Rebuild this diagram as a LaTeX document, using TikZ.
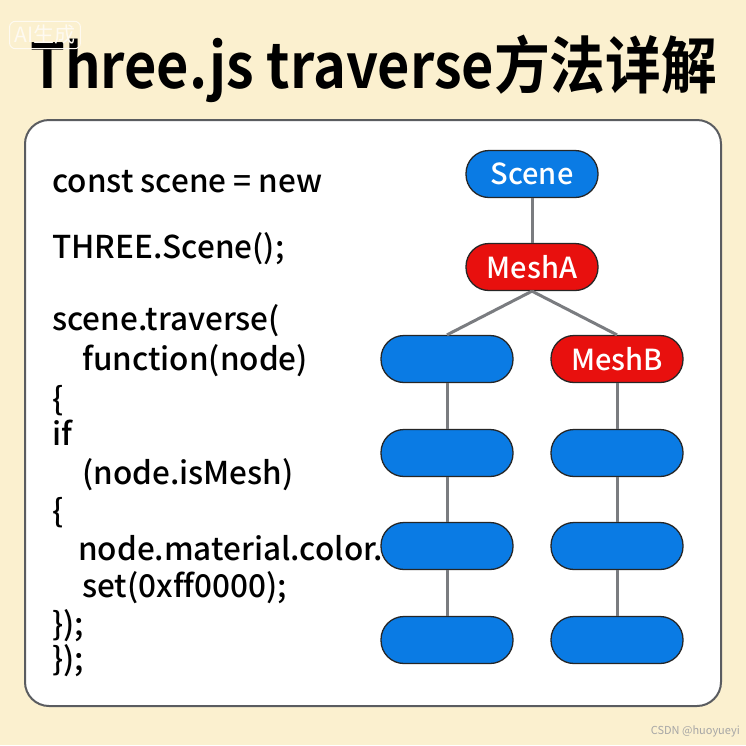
\documentclass[tikz,border=0pt]{standalone}
\usepackage{fontspec}
\setmainfont{Noto Sans CJK SC}[BoldFont={Noto Sans CJK SC Bold}]
\newfontfamily\titlefont{Noto Sans CJK SC Bold}
\newfontfamily\codefont{Noto Sans CJK SC Medium}[Ligatures={NoCommon}]
\usetikzlibrary{positioning}

\definecolor{cream}{HTML}{FBF0CF}
\definecolor{objblue}{HTML}{0A7BE4}
\definecolor{meshred}{HTML}{E8100E}
\definecolor{linkgray}{HTML}{7A7C80}
\definecolor{panelgray}{HTML}{5A5C60}

\tikzset{
  obj/.style={draw=black!85, line width=1.3pt, fill=objblue, text=white,
    rounded corners=23pt, minimum width=132pt, minimum height=47pt,
    inner sep=0pt, font=\codefont\fontsize{29}{34}\selectfont},
  mesh/.style={obj, fill=meshred},
  link/.style={draw=linkgray, line width=3pt},
  codeline/.style={anchor=base west, inner sep=0pt, font=\codefont\fontsize{31.5}{38}\selectfont}
}

\begin{document}
\begin{tikzpicture}[x=1pt, y=-1pt]
  \useasboundingbox (0,0) rectangle (746,745);
  \fill[cream] (0,0) rectangle (746,745);
  % watermark and title
  \node[anchor=base west, inner sep=0pt, font=\titlefont\fontsize{62}{70}\selectfont] (title) at (30,88) {\scalebox{0.9}[1]{Three.js traverse方法详解}};
  \node[draw=white!70!cream, line width=1pt, rounded corners=6pt, text=white!70!cream,
    font=\fontsize{21}{24}\selectfont, inner xsep=5pt, inner ysep=4pt] (aimark) at (45,35) {AI生成};
  % panel
  \draw[fill=white, draw=panelgray, line width=2pt, rounded corners=24pt] (25,120) rectangle (721,706);
  % code
  \node[codeline] (code1) at (52,192) {const scene = new};
  \node[codeline] (code2) at (52,258) {THREE.Scene();};
  \node[codeline] (code3) at (52,330) {scene.traverse(};
  \node[codeline] (code4) at (82,370) {function(node)};
  \node[codeline] (code5) at (52,410) {\{};
  \node[codeline] (code6) at (52,445) {if};
  \node[codeline] (code7) at (82,484) {(node.isMesh)};
  \node[codeline] (code8) at (52,522) {\{};
  \node[codeline] (code9) at (78,560) {node.material.color.};
  \node[codeline] (code10) at (82,597) {set(0xff0000);};
  \node[codeline] (code11) at (52,635) {\});};
  \node[codeline] (code12) at (52,670) {\});};
  % tree
  \node[obj] (scene) at (532,174) {Scene};
  \node[mesh] (meshA) at (532,267) {MeshA};
  \node[obj] (leftA) at (447,359) {};
  \node[mesh] (meshB) at (617,359) {MeshB};
  \node[obj] (leftB) at (447,453) {};
  \node[obj] (leftC) at (447,546) {};
  \node[obj] (leftD) at (447,640) {};
  \node[obj] (rightB) at (617,453) {};
  \node[obj] (rightC) at (617,546) {};
  \node[obj] (rightD) at (617,640) {};
  \draw[link] (scene) -- (meshA);
  \draw[link] (meshA.south) -- (leftA.north);
  \draw[link] (meshA.south) -- (meshB.north);
  \draw[link] (leftA) -- (leftB);
  \draw[link] (leftB) -- (leftC);
  \draw[link] (leftC) -- (leftD);
  \draw[link] (meshB) -- (rightB);
  \draw[link] (rightB) -- (rightC);
  \draw[link] (rightC) -- (rightD);
  \node[anchor=base east, inner sep=0pt, text=black!35, font=\fontsize{11}{13}\selectfont] (csdn) at (740,734) {CSDN @huoyueyi};
\end{tikzpicture}
\end{document}
